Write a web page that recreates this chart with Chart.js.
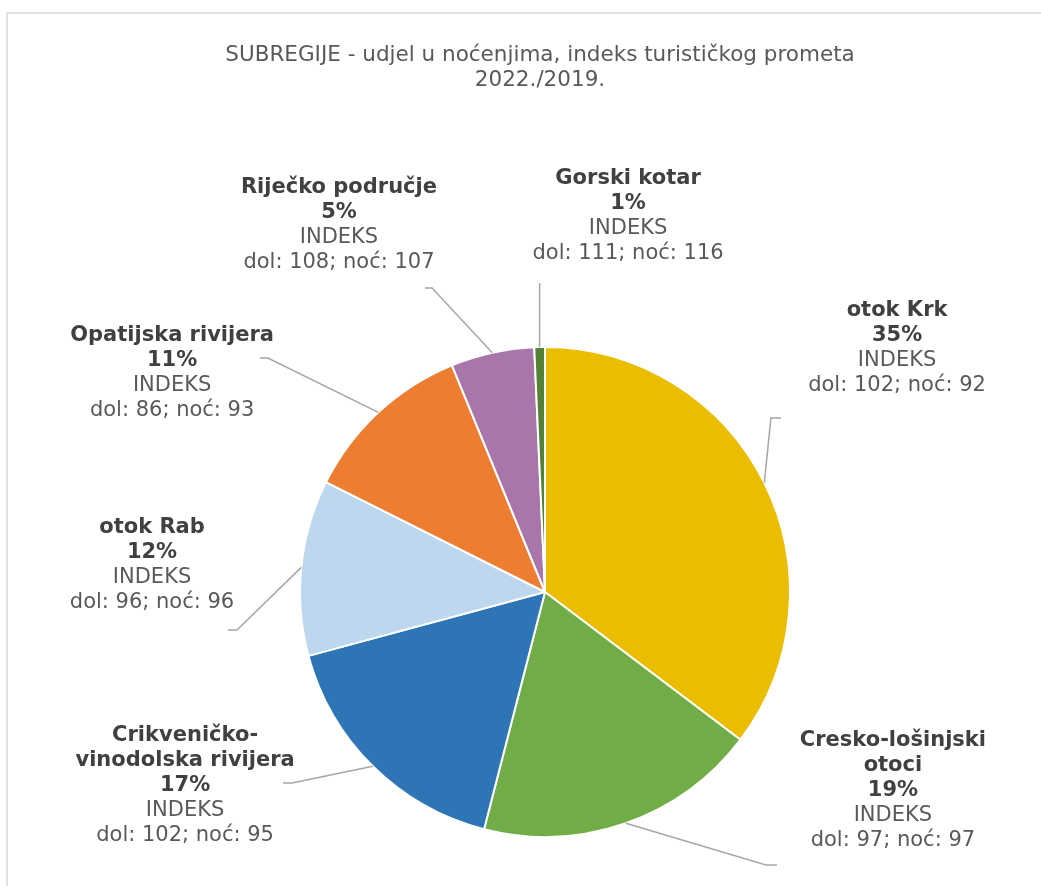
<!DOCTYPE html>
<html>
<head>
<meta charset="utf-8">
<script src="https://cdn.jsdelivr.net/npm/chart.js@4.4.1/dist/chart.umd.min.js"></script>
<style>
html,body{margin:0;padding:0;background:#fff;}
#wrap{position:relative;width:1041px;height:886px;}
</style>
</head>
<body>
<div id="wrap"><canvas id="c"></canvas></div>
<script>
// ---- data ----
const categories = ["otok Krk", "Cresko-lošinjski otoci", "Crikveničko-vinodolska rivijera", "otok Rab", "Opatijska rivijera", "Riječko područje", "Gorski kotar"];
const nameLines = [["otok Krk"], ["Cresko-lošinjski", "otoci"], ["Crikveničko-", "vinodolska rivijera"], ["otok Rab"], ["Opatijska rivijera"], ["Riječko područje"], ["Gorski kotar"]];
const shares = [35.3, 18.7, 16.8, 11.6, 11.4, 5.5, 0.7];
const shareLabels = ["35%", "19%", "17%", "12%", "11%", "5%", "1%"];
const indexDol = [102, 97, 102, 96, 86, 108, 111];
const indexNoc = [92, 97, 95, 96, 93, 107, 116];
const titleLines = ["SUBREGIJE - udjel u noćenjima, indeks turističkog prometa", "2022./2019."];

// ---- styles / layout (relative to pie radius) ----
const colors = ["#EABD00", "#70AD47", "#2E75B6", "#BDD7EE", "#ED7D31", "#A876AB", "#548235"];
const labelPos = [[1.437,-0.996],[1.420,0.812],[-1.469,0.788],[-1.604,-0.110],[-1.522,-0.894],[-0.841,-1.498],[0.339,-1.535]];
const elbowPos = [[0.922,-0.710],[0.902,1.114],[-1.033,0.780],[-1.257,0.155],[-1.131,-0.955],[-0.461,-1.241],[null,-1.261]];
const stubPos  = [[0.963,-0.710],[0.947,1.114],[-1.069,0.780],[-1.294,0.155],[-1.163,-0.955],[-0.490,-1.241],[null,-1.261]];

const FONT = '"DejaVu Sans", Verdana, sans-serif';

const framePlugin = {
  id: 'frame',
  beforeDraw(chart) {
    const ctx = chart.ctx;
    ctx.save();
    ctx.strokeStyle = '#D9D9D9';
    ctx.lineWidth = 1.5;
    ctx.strokeRect(7, 13, 1100, 1000);
    ctx.font = '21.5px ' + FONT;
    ctx.fillStyle = '#595959';
    ctx.textAlign = 'center';
    ctx.textBaseline = 'middle';
    titleLines.forEach((t, k) => ctx.fillText(t, 540, 55 + k * 25));
    ctx.restore();
  }
};

const labelPlugin = {
  id: 'pieLabels',
  afterDatasetsDraw(chart) {
    const ctx = chart.ctx;
    const meta = chart.getDatasetMeta(0);
    ctx.save();
    meta.data.forEach((arc, i) => {
      const p = arc.getProps(['x','y','startAngle','endAngle','outerRadius'], true);
      const r = p.outerRadius;
      const mid = (p.startAngle + p.endAngle) / 2;
      const ax = p.x + Math.cos(mid) * r;
      const ay = p.y + Math.sin(mid) * r;
      const ex = elbowPos[i][0] === null ? ax : p.x + elbowPos[i][0] * r;
      const ey = p.y + elbowPos[i][1] * r;
      const sx = stubPos[i][0] === null ? ax : p.x + stubPos[i][0] * r;
      const sy = p.y + stubPos[i][1] * r;
      ctx.strokeStyle = '#A6A6A6';
      ctx.lineWidth = 1.5;
      ctx.beginPath();
      ctx.moveTo(ax, ay);
      ctx.lineTo(ex, ey);
      ctx.lineTo(sx, sy);
      ctx.stroke();

      const lines = [];
      nameLines[i].forEach(t => lines.push({t, bold:true}));
      lines.push({t: shareLabels[i], bold:true});
      lines.push({t: 'INDEKS', bold:false});
      lines.push({t: 'dol: ' + indexDol[i] + '; noć: ' + indexNoc[i], bold:false});
      const lh = 25;
      const cx = p.x + labelPos[i][0] * r;
      const cy = p.y + labelPos[i][1] * r;
      const top = cy - (lines.length - 1) * lh / 2;
      ctx.textAlign = 'center';
      ctx.textBaseline = 'middle';
      lines.forEach((ln, k) => {
        ctx.font = (ln.bold ? 'bold ' : '') + '21px ' + FONT;
        ctx.fillStyle = ln.bold ? '#404040' : '#595959';
        ctx.fillText(ln.t, cx, top + k * lh);
      });
    });
    ctx.restore();
  }
};

new Chart(document.getElementById('c'), {
  type: 'pie',
  data: {
    labels: categories,
    datasets: [{
      data: shares,
      backgroundColor: colors,
      borderColor: '#FFFFFF',
      borderWidth: 2
    }]
  },
  options: {
    responsive: true,
    maintainAspectRatio: false,
    animation: false,
    layout: { padding: { left: 299, right: 250, top: 346, bottom: 48 } },
    plugins: {
      legend: { display: false },
      tooltip: { enabled: false },
      title: { display: false }
    }
  },
  plugins: [framePlugin, labelPlugin]
});
</script>
</body>
</html>
